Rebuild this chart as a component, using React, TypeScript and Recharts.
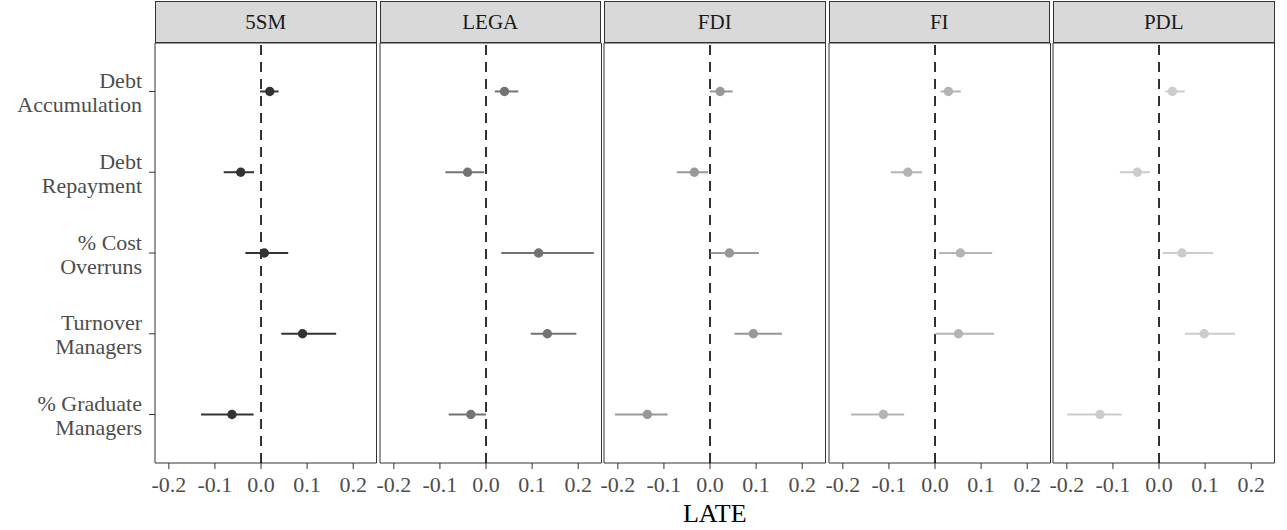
import { ScatterChart, Scatter, XAxis, YAxis, ErrorBar, ReferenceLine, ReferenceArea } from 'recharts';

const FONT = '"Liberation Serif", "DejaVu Serif", serif';

// outcomes, top to bottom (line break = label wrap)
const categories = [
    'Debt\nAccumulation',
    'Debt\nRepayment',
    '% Cost\nOverruns',
    'Turnover\nManagers',
    '% Graduate\nManagers',
];
const programs = ['5SM', 'LEGA', 'FDI', 'FI', 'PDL'];
const colors = ['#333333', '#737373', '#989898', '#B4B4B4', '#CCCCCC'];
const xTicks = [-0.2, -0.1, 0, 0.1, 0.2];

// LATE point estimates and interval bounds, per program
const est5SM = [0.019, -0.044, 0.007, 0.09, -0.063];
const lo5SM = [-0.002, -0.081, -0.034, 0.044, -0.13];
const hi5SM = [0.038, -0.015, 0.059, 0.163, -0.016];

const estLEGA = [0.04, -0.04, 0.114, 0.133, -0.033];
const loLEGA = [0.019, -0.088, 0.033, 0.097, -0.081];
const hiLEGA = [0.07, -0.004, 0.234, 0.196, 0.0];

const estFDI = [0.022, -0.034, 0.042, 0.094, -0.136];
const loFDI = [0.0, -0.072, 0.001, 0.053, -0.206];
const hiFDI = [0.049, -0.004, 0.106, 0.156, -0.092];

const estFI = [0.029, -0.059, 0.055, 0.051, -0.112];
const loFI = [0.012, -0.096, 0.009, 0.001, -0.182];
const hiFI = [0.056, -0.028, 0.124, 0.128, -0.067];

const estPDL = [0.029, -0.047, 0.05, 0.098, -0.128];
const loPDL = [0.014, -0.085, 0.008, 0.056, -0.199];
const hiPDL = [0.056, -0.02, 0.117, 0.165, -0.081];

const series = [
    { est: est5SM, lo: lo5SM, hi: hi5SM },
    { est: estLEGA, lo: loLEGA, hi: hiLEGA },
    { est: estFDI, lo: loFDI, hi: hiFDI },
    { est: estFI, lo: loFI, hi: hiFI },
    { est: estPDL, lo: loPDL, hi: hiPDL },
];

const X_DOMAIN: [number, number] = [-0.23, 0.2505];
const Y_DOMAIN: [number, number] = [0.4, 5.6];

const PANEL_LEFT = 155;
const STEP = 224.5;
const PW = 221.5;
const PH = 420;
const PANEL_TOP = 43;
const Y_AXIS_W = 155;
const PAD = 30;

const YTick = (props: any) => {
    const { x, y, payload } = props;
    const lines = categories[payload.value - 1].split('\n');
    return (
        <text x={x} y={y} textAnchor="end" fill="#4d4d4d" fontSize={22} fontFamily={FONT}>
            <tspan x={x} dy={-3.5}>{lines[0]}</tspan>
            <tspan x={x} dy={24}>{lines[1]}</tspan>
        </text>
    );
};

function Panel({ idx }: { idx: number }) {
    const first = idx === 0;
    const yW = first ? Y_AXIS_W : 0;
    const padL = first ? 0 : PAD;
    const chartLeft = PANEL_LEFT + idx * STEP - yW - padL;
    const color = colors[idx];
    const s = series[idx];
    const rows = categories.map((c, i) => ({
        name: c,
        x: s.est[i],
        y: i + 1,
        err: [s.est[i] - s.lo[i], s.hi[i] - s.est[i]],
    }));

    return (
        <>
            <div
                style={{
                    position: 'absolute',
                    left: PANEL_LEFT + idx * STEP,
                    top: 1,
                    width: PW,
                    height: 42,
                    boxSizing: 'border-box',
                    background: '#d9d9d9',
                    border: '1px solid #333333',
                    textAlign: 'center',
                    lineHeight: '40px',
                    fontSize: 21,
                    fontFamily: FONT,
                    color: '#1a1a1a',
                }}
            >
                {programs[idx]}
            </div>
            <div style={{ position: 'absolute', left: chartLeft, top: PANEL_TOP }}>
                <ScatterChart
                    width={PW + yW + padL + PAD}
                    height={PH + 50}
                    margin={{ top: 0, right: PAD, bottom: 0, left: padL }}
                >
                    <XAxis
                        type="number"
                        dataKey="x"
                        domain={X_DOMAIN}
                        allowDataOverflow
                        ticks={xTicks}
                        interval={0}
                        tickFormatter={(v: number) => v.toFixed(1)}
                        height={50}
                        axisLine={false}
                        tickLine={{ stroke: '#333333', strokeWidth: 1 }}
                        tickSize={6}
                        tickMargin={7}
                        tick={{ fill: '#4d4d4d', fontSize: 22, fontFamily: FONT }}
                    />
                    <YAxis
                        type="number"
                        dataKey="y"
                        domain={Y_DOMAIN}
                        allowDataOverflow
                        reversed
                        ticks={[1, 2, 3, 4, 5]}
                        interval={0}
                        hide={!first}
                        width={yW}
                        axisLine={false}
                        tickLine={{ stroke: '#333333', strokeWidth: 1 }}
                        tickSize={6}
                        tickMargin={7}
                        tick={<YTick />}
                    />
                    <ReferenceArea
                        x1={X_DOMAIN[0]}
                        x2={X_DOMAIN[1]}
                        y1={Y_DOMAIN[0]}
                        y2={Y_DOMAIN[1]}
                        fill="none"
                        stroke="#333333"
                        strokeWidth={1}
                        ifOverflow="visible"
                    />
                    <ReferenceLine x={0} stroke="#000000" strokeWidth={1.6} strokeDasharray="10 7" />
                    <Scatter
                        data={rows}
                        isAnimationActive={false}
                        shape={(p: any) => <circle cx={p.cx} cy={p.cy} r={4.7} fill={color} />}
                    >
                        <ErrorBar dataKey="err" direction="x" width={0} stroke={color} strokeWidth={2} />
                    </Scatter>
                </ScatterChart>
            </div>
        </>
    );
}

export default function App() {
    return (
        <div
            style={{
                position: 'absolute',
                left: 0,
                top: 0,
                width: 1287,
                height: 530,
                background: '#ffffff',
                overflow: 'hidden',
            }}
        >
            {programs.map((p, i) => (
                <Panel key={p} idx={i} />
            ))}
            <div
                style={{
                    position: 'absolute',
                    left: PANEL_LEFT,
                    width: 4 * STEP + PW,
                    top: 501,
                    textAlign: 'center',
                    fontSize: 26,
                    lineHeight: '26px',
                    fontFamily: FONT,
                    color: '#000000',
                }}
            >
                LATE
            </div>
        </div>
    );
}
